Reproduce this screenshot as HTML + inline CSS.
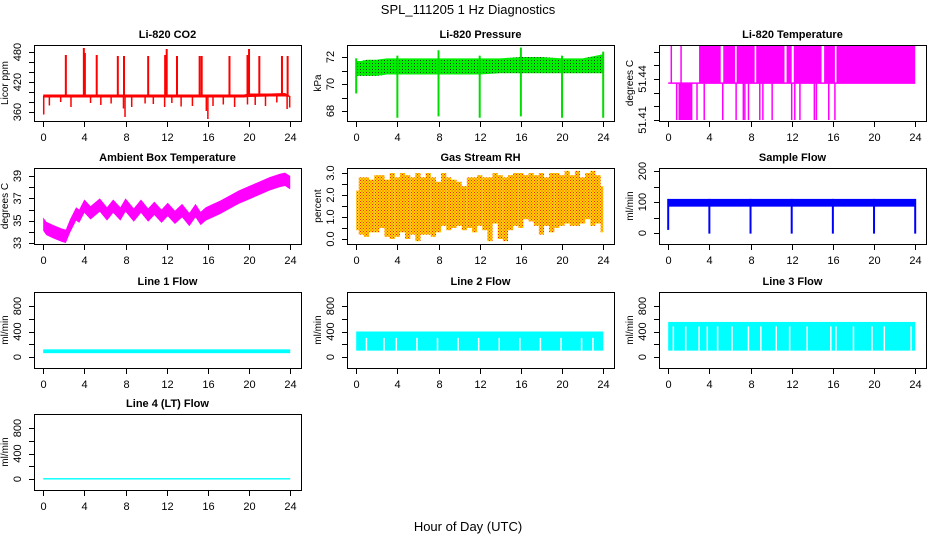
<!DOCTYPE html>
<html><head><meta charset="utf-8"><style>
html,body{margin:0;padding:0;background:#fff;}
svg{display:block;font-family:"Liberation Sans",Arial,sans-serif;}
</style></head><body>
<svg id="c" width="936" height="540" viewBox="0 0 936 540" xmlns="http://www.w3.org/2000/svg">
<defs>
<pattern id="rhpat" width="3" height="3" patternUnits="userSpaceOnUse"><rect width="3" height="3" fill="#ffd200"/><rect x="0" y="0" width="1" height="1" fill="#ff2000"/><rect x="1.5" y="1.5" width="1" height="1" fill="#ff2000"/></pattern>
<pattern id="prpat" width="3" height="3" patternUnits="userSpaceOnUse"><rect width="3" height="3" fill="#00ee00"/><rect x="0" y="0" width="1" height="1" fill="#114411"/></pattern>
</defs>
<text x="468" y="14" text-anchor="middle" font-size="13">SPL_111205  1 Hz Diagnostics</text>
<text x="468" y="531" text-anchor="middle" font-size="13">Hour of Day (UTC)</text>
</svg>
<script>
// ---- data ----
const xTicks=[0,4,8,12,16,20,24];
// CO2
const co2BaseHours=[0,2,4,6,8,10,12,14,16,18,19.5,20,22,23.5,24];
const co2BaseLow=[389,389,389,389,389,389,389,389,389,389,389,390,391,391,390];
const co2BaseHigh=[395,395,395,395,395,395,395,395,395,395,395,397,397,398,392];
const co2SpikeHours=[2.2,3.95,4.05,5.2,7.25,7.85,10.2,11.85,12.0,13.0,15.2,15.4,18.1,19.85,20.0,21.0,23.2,23.75];
const co2SpikeValues=[474,488,478,474,472,472,472,474,486,472,472,472,472,474,486,472,472,472];
const co2DipHours=[0.05,0.6,1.7,2.7,4.6,5.6,6.6,7.8,7.95,8.6,9.9,10.7,11.8,12.5,13.4,14.5,15.85,16.0,16.5,17.5,18.6,19.85,20.6,21.6,22.7,23.7,23.95];
const co2DipValues=[355,373,380,370,378,374,377,367,350,370,377,376,370,378,371,372,362,346,372,375,370,375,374,372,379,366,369];
// Pressure
const prHours=[0,0.5,1,2,3,4,6,8,10,12,14,16,18,20,22,24];
const prLow=[70.6,70.6,70.6,70.6,70.7,70.7,70.7,70.7,70.7,70.7,70.8,70.8,70.8,70.8,70.8,70.8];
const prHigh=[71.7,71.7,71.8,71.8,71.9,71.9,71.9,71.9,71.9,71.9,71.9,72.0,72.0,71.9,71.9,72.2];
const prEventHours=[0,4,8,12,16,20,24];
const prEventLow=[69.3,67.5,67.6,67.5,67.6,67.5,67.5];
const prEventHigh=[71.9,72.1,72.5,72.1,72.7,72.1,72.4];
// Li-820 temperature
const ltMid=51.437, ltTop=51.4685, ltBottom=51.41;
const ltHighIntervals=[[3.0,5.1],[5.35,6.5],[6.65,8.4],[8.55,11.3],[11.5,12.0],[12.2,14.9],[15.15,16.2],[16.35,24.0]];
const ltHighLines=[0.3,1.25];
const ltLowIntervals=[[0.75,0.9],[1.0,2.35]];
const ltLowLines=[2.8,3.5,5.3,6.6,7.3,7.45,7.8,8.9,9.2,10.1,12.0,12.3,12.8,14.2,14.4,15.6,16.2];
// Ambient temperature
const ambHours=[0,0.3,1,1.8,2.2,2.6,3.2,3.5,4.0,4.6,5.5,6.2,6.8,7.5,8.0,8.8,9.5,10.2,10.8,11.5,12.1,12.8,13.5,14.2,14.8,15.3,15.8,16.5,17.2,18,19,20,21,22,23,23.5,24];
const ambCenter=[34.7,34.3,34.0,33.7,33.6,34.5,35.6,35.4,36.3,35.7,36.4,35.6,36.3,35.6,36.4,35.5,36.3,35.5,36.1,35.4,36.0,35.3,35.9,35.1,35.9,35.2,35.6,35.9,36.2,36.6,37.1,37.5,37.9,38.3,38.6,38.7,38.4];
// Gas stream RH (every 0.5 h)
const rhHigh=[2.2,2.8,2.8,2.7,2.9,2.9,2.7,3.0,2.8,3.0,2.9,2.8,3.0,2.8,3.0,2.8,2.6,3.0,2.8,2.7,2.6,2.4,2.8,2.8,2.9,2.8,2.8,3.0,2.9,2.8,2.9,3.0,3.0,2.9,3.0,2.9,3.0,2.8,3.0,3.0,2.9,3.1,2.9,3.1,2.8,3.0,3.1,2.9,2.4];
const rhLow=[0.4,0.2,0.1,0.3,0.3,0.5,0.1,0.0,0.1,0.3,0.0,0.2,-0.1,0.2,0.2,0.1,0.3,0.6,0.4,0.5,0.6,0.4,0.5,0.3,0.6,0.4,-0.1,0.7,0.0,-0.1,0.4,0.6,0.5,0.9,0.8,0.6,0.2,0.6,0.3,0.5,0.6,0.7,0.6,0.6,0.7,0.9,0.6,0.7,0.3];
// Sample flow
const sfLow=85, sfHigh=110;
const sfDipHours=[0,4,8,12,16,20,24];
const sfDipValues=[10,-2,-2,-2,-2,-2,-2];
// Line flows
const l1Low=60, l1High=120;
const l2Low=100, l2High=400;
const l2Gaps=[1.0,2.7,3.9,5.9,7.9,9.9,11.9,13.9,15.9,17.9,19.9,21.9,23.0];
const l3Low=100, l3High=550;
const l3Gaps=[0.5,1.7,3.0,3.8,4.8,6.2,7.8,9.0,10.5,11.8,13.5,15.8,16.3,18.0,19.8,21.0,23.6];
const l4Low=-8, l4High=14;

// ---- layout ----
const svg=document.getElementById('c');
const NS='http://www.w3.org/2000/svg';
const colsL=[34,347,659], rowsT=[45,168,292,414], BW=267, BH=76;
function el(tag,attrs,parent){const e=document.createElementNS(NS,tag);for(const k in attrs)e.setAttribute(k,attrs[k]);(parent||svg).appendChild(e);return e;}
let clipN=0;
function panel(col,row,title,ylab,v1,p1,v2,p2,ticks,labels,name){
  const L=colsL[col],T=rowsT[row];
  const g=el('g',{});
  
  
  const xs=h=>L+9.2+h*247/24;
  const ys=v=>T+p1+(v-v1)*(p2-p1)/(v2-v1);
  const cid='cl'+(clipN++);
  const cp=el('clipPath',{id:cid},g);el('rect',{x:L,y:T,width:BW,height:BH},cp);
  const data=el('g',{'clip-path':'url(#'+cid+')'},g);
  
  
  const t=el('text',{x:L+BW/2,y:T-7,'text-anchor':'middle','font-size':11,'font-weight':'bold'},g);t.textContent=title;
  
  
  const box=el('rect',{x:L+0.5,y:T+0.5,width:BW,height:BH,fill:'none',stroke:'#000','stroke-width':1},g);
  
  
  const xa=el('g',{},g);
  
  
  xTicks.forEach(h=>{const x=Math.round(xs(h))+0.5;el('line',{x1:x,x2:x,y1:T+BH,y2:T+BH+6,stroke:'#000'},xa);
    const tx=el('text',{x:x,y:T+BH+20,'text-anchor':'middle','font-size':11},xa);tx.textContent=h;});
  const ya=el('g',{},g);
  
  
  ticks.forEach(v=>{const y=Math.round(ys(v))+0.5;el('line',{x1:L-5,x2:L,y1:y,y2:y,stroke:'#000'},ya);});
  labels.forEach(lb=>{const y=ys(lb[0]);const tx=el('text',{x:L-13,y:y,'text-anchor':'middle','font-size':11,transform:'rotate(-90 '+(L-13)+' '+y+')'},ya);tx.textContent=lb[1];});
  const yl=el('text',{x:L-26,y:T+BH/2,'text-anchor':'middle','font-size':10,transform:'rotate(-90 '+(L-26)+' '+(T+BH/2)+')'},g);yl.textContent=ylab;
  
  
  return {g:data,xs,ys};
}
function band(p,hours,lo,hi,fill){let pts=[];hours.forEach((h,i)=>pts.push(p.xs(h)+','+p.ys(hi[i])));for(let i=hours.length-1;i>=0;i--)pts.push(p.xs(hours[i])+','+p.ys(lo[i]));return el('polygon',{points:pts.join(' '),fill:fill},p.g);}
function vl(p,h,a,b,c,w){return el('line',{x1:p.xs(h),x2:p.xs(h),y1:p.ys(a),y2:p.ys(b),stroke:c,'stroke-width':w||1.5},p.g);}
function rect(p,h1,h2,a,b,fill){const x1=p.xs(h1),x2=p.xs(h2),y1=p.ys(b),y2=p.ys(a);return el('rect',{x:x1,y:y1,width:Math.max(0.5,x2-x1),height:y2-y1,fill:fill},p.g);}
function rng(a,b,s){const r=[];for(let v=a;v<=b+1e-9;v+=s)r.push(+v.toFixed(4));return r;}

let p=panel(0,0,'Li-820 CO2','Licor ppm',360,67,480,7,rng(360,480,20),[[360,'360'],[420,'420'],[480,'480']],'co2');
band(p,co2BaseHours,co2BaseLow,co2BaseHigh,'#ff0000');
co2SpikeHours.forEach((h,i)=>vl(p,h,392,co2SpikeValues[i],'#ff0000',2));
co2DipHours.forEach((h,i)=>vl(p,h,392,co2DipValues[i],'#ff0000',1.5));
p=panel(1,0,'Li-820 Pressure','kPa',68,66,72,12,rng(68,72,1),[[68,'68'],[70,'70'],[72,'72']],'pressure');
band(p,prHours,prLow,prHigh,'url(#prpat)');
prEventHours.forEach((h,i)=>vl(p,h,prEventLow[i],prEventHigh[i],'#00dd00',2));
p=panel(2,0,'Li-820 Temperature','degrees C',51.41,75,51.44,34,rng(51.41,51.46,0.01),[[51.41,'51.41'],[51.44,'51.44']],'li820-temp');
el('line',{x1:p.xs(0),x2:p.xs(24),y1:p.ys(ltMid),y2:p.ys(ltMid),stroke:'#ff00ff','stroke-width':1.5},p.g);
ltHighIntervals.forEach(iv=>rect(p,iv[0],iv[1],ltMid,ltTop,'#ff00ff'));
ltHighLines.forEach(h=>vl(p,h,ltMid,ltTop,'#ff00ff',1.5));
ltLowIntervals.forEach(iv=>rect(p,iv[0],iv[1],ltBottom,ltMid,'#ff00ff'));
ltLowLines.forEach(h=>vl(p,h,ltBottom,ltMid,'#ff00ff',1.5));
p=panel(0,1,'Ambient Box Temperature','degrees C',33,75,39,8,rng(33,39,1),[[33,'33'],[35,'35'],[37,'37'],[39,'39']],'ambient-temp');
band(p,ambHours,ambCenter.map(v=>v-0.6),ambCenter.map(v=>v+0.6),'#ff00ff');
p=panel(1,1,'Gas Stream RH','percent',0,71,3,5,rng(0,3,0.5),[[0,'0.0'],[1,'1.0'],[2,'2.0'],[3,'3.0']],'gas-rh');
rhHigh.forEach((v,i)=>rect(p,Math.max(0,i*0.5-0.25),Math.min(24,i*0.5+0.25),rhLow[i],v,'url(#rhpat)'));
p=panel(2,1,'Sample Flow','ml/min',0,65,200,3,rng(0,200,50),[[0,'0'],[100,'100'],[200,'200']],'sample-flow');
rect(p,0,24,sfLow,sfHigh,'#0000ff');
sfDipHours.forEach((h,i)=>vl(p,h,sfDipValues[i],sfHigh,'#0000ff',2));
const lt=rng(0,800,200), ll=[[0,'0'],[400,'400'],[800,'800']];
p=panel(0,2,'Line 1 Flow','ml/min',0,65,800,14,lt,ll,'line1-flow');
rect(p,0,24,l1Low,l1High,'#00ffff');
p=panel(1,2,'Line 2 Flow','ml/min',0,65,800,14,lt,ll,'line2-flow');
rect(p,0,24,l2Low,l2High,'#00ffff');
l2Gaps.forEach(h=>vl(p,h,l2Low,300,'#ffffff',1.5));
p=panel(2,2,'Line 3 Flow','ml/min',0,65,800,14,lt,ll,'line3-flow');
rect(p,0,24,l3Low,l3High,'#00ffff');
l3Gaps.forEach(h=>vl(p,h,l3Low,480,'#ffffff',1.5));
p=panel(0,3,'Line 4 (LT) Flow','ml/min',0,65,800,14,lt,ll,'line4-flow');
rect(p,0,24,l4Low,l4High,'#00ffff');
</script>
</body></html>
